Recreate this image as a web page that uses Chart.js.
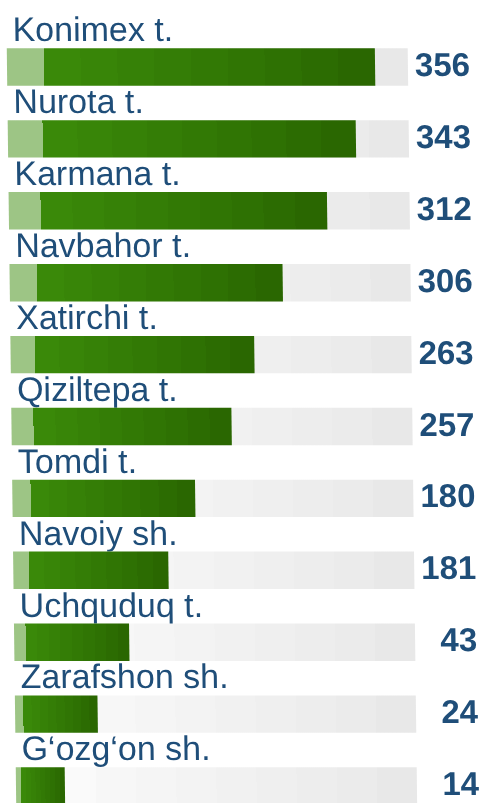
<!DOCTYPE html>
<html>
<head>
<meta charset="utf-8">
<script src="https://cdn.jsdelivr.net/npm/chart.js@4.4.0/dist/chart.umd.min.js"></script>
<style>
    html, body { margin: 0; padding: 0; background: #fff; }
    .chart-box { width: 479px; height: 803px; }
</style>
</head>
<body>
<div class="chart-box"><canvas id="districtChart"></canvas></div>
<script>
// districts, top to bottom
const districts = ['Konimex t.', 'Nurota t.', 'Karmana t.', 'Navbahor t.', 'Xatirchi t.', 'Qiziltepa t.',
    'Tomdi t.', 'Navoiy sh.', 'Uchquduq t.', 'Zarafshon sh.', 'G‘ozg‘on sh.'];
// numbers printed at the right
const counts = [356, 343, 312, 306, 263, 257, 180, 181, 43, 24, 14];
// length of the green bar, as % of the grey track
const fillPercent = [91.8, 86.8, 79.4, 68.1, 60.8, 54.9, 45.6, 38.7, 28.7, 20.6, 12.2];
const trackFull = [100, 100, 100, 100, 100, 100, 100, 100, 100, 100, 100];

const greenSteps = ['#9dc585', '#3a8909', '#388508', '#368107', '#347d06', '#327905', '#307504', '#2e7103', '#2c6c02', '#2a6701'];
const greySteps = ['#fdfdfd', '#fafafa', '#f7f7f7', '#f5f5f5', '#f3f3f3', '#f1f1f1', '#efefef', '#ededed', '#ebebeb', '#e8e8e8'];
const textBlue = '#1f4e79';

// banded gradient from pixel a to pixel b
function stepGradient(chart, a, b, colors) {
    const g = chart.ctx.createLinearGradient(a, 0, b, 0);
    const n = colors.length;
    colors.forEach((c, i) => {
        g.addColorStop(i / n, c);
        g.addColorStop((i + 1) / n, c);
    });
    return g;
}

function barFill(colors, fallback) {
    return function(context) {
        const chart = context.chart;
        const x = chart.scales.x;
        if (!context.parsed || !x) return fallback;
        const a = x.getPixelForValue(0);
        const b = x.getPixelForValue(context.parsed.x);
        if (!isFinite(a) || !isFinite(b) || a === b) return fallback;
        return stepGradient(chart, a, b, colors);
    };
}

// the whole picture leans a little to the right going down
const slant = {
    id: 'slant',
    beforeDraw(chart) {
        const k = 0.0125;
        chart.ctx.save();
        chart.ctx.transform(1, 0, k, 1, -k * chart.chartArea.top, 0);
    },
    afterDraw(chart) {
        chart.ctx.restore();
    }
};

const ctx = document.getElementById('districtChart').getContext('2d');

new Chart(ctx, {
    type: 'bar',
    data: {
        labels: districts,
        datasets: [
            {
                label: 'fill',
                data: fillPercent,
                backgroundColor: barFill(greenSteps, '#338008'),
                borderWidth: 0,
                grouped: false,
                clip: false,
                barPercentage: 0.52,
                categoryPercentage: 1
            },
            {
                label: 'track',
                data: trackFull,
                backgroundColor: barFill(greySteps, '#f0f0f0'),
                borderWidth: 0,
                grouped: false,
                clip: false,
                barPercentage: 0.52,
                categoryPercentage: 1
            }
        ]
    },
    options: {
        indexAxis: 'y',
        responsive: true,
        maintainAspectRatio: false,
        animation: false,
        layout: { padding: { top: 67, bottom: 17, left: -5, right: 9 } },
        plugins: {
            legend: { display: false },
            tooltip: { enabled: false }
        },
        scales: {
            x: { display: false, min: 0, max: 100 },
            y: {
                offset: false,
                grid: { display: false, drawTicks: false, tickLength: 0 },
                border: { display: false },
                ticks: {
                    mirror: true,
                    padding: 6,
                    labelOffset: -35,
                    autoSkip: false,
                    color: textBlue,
                    font: { family: "'Liberation Sans', Arial, sans-serif", size: 34, lineHeight: 0.2 }
                }
            },
            yRight: {
                type: 'category',
                position: 'right',
                offset: false,
                grid: { display: false, drawTicks: false, tickLength: 0 },
                border: { display: false },
                ticks: {
                    crossAlign: 'far',
                    padding: 3.5,
                    autoSkip: false,
                    color: textBlue,
                    font: { family: "'Liberation Sans', Arial, sans-serif", size: 33, weight: 'bold', lineHeight: 0.2 },
                    callback: function(value, index) { return counts[index]; }
                }
            }
        }
    },
    plugins: [slant]
});
</script>
</body>
</html>
